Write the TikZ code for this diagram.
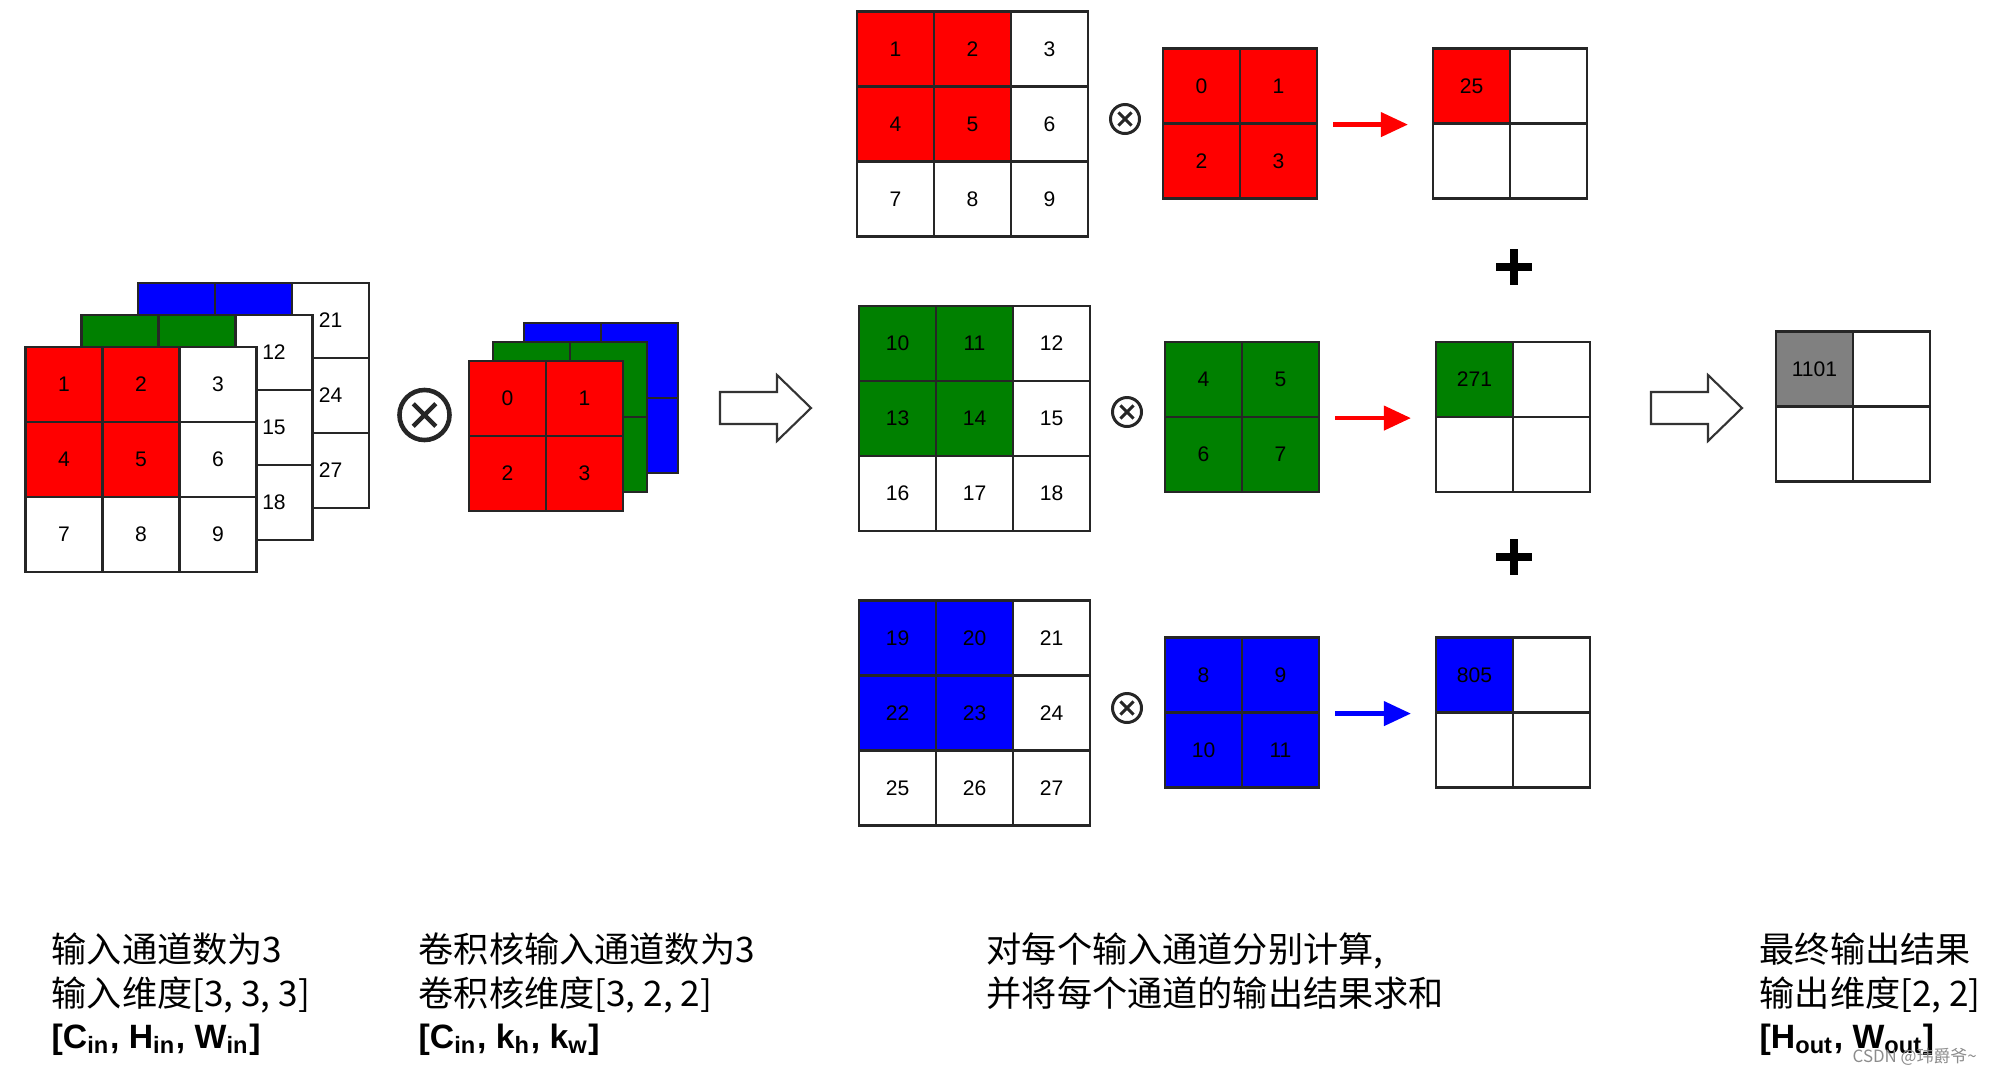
\documentclass[tikz,border=0pt]{standalone}
\usepackage{fontspec}
\setmainfont{Liberation Sans}
\newfontfamily\cjk{Noto Sans CJK SC}
\usepackage{xcolor}
\usetikzlibrary{arrows.meta,calc}
\definecolor{chred}{RGB}{255,0,0}
\definecolor{chgreen}{RGB}{0,128,0}
\definecolor{chblue}{RGB}{0,0,255}
\definecolor{sumgray}{RGB}{128,128,128}

\begin{document}
\begin{tikzpicture}[x=0.01cm,y=-0.01cm,
  cell/.style={draw=black!85,line width=0.6pt,minimum width=0.77cm,minimum height=0.75cm,inner sep=0pt,text=black,font=\fontsize{6}{7}\selectfont},
  otimes/.style={circle,draw=black!85,line width=#1,inner sep=0pt,path picture={\draw[black!85,line width=#1] ($(path picture bounding box.center)!0.45!(path picture bounding box.north east)$)--($(path picture bounding box.center)!0.45!(path picture bounding box.south west)$) ($(path picture bounding box.center)!0.45!(path picture bounding box.north west)$)--($(path picture bounding box.center)!0.45!(path picture bounding box.south east)$);}},
  flow/.style={line width=1.2pt,-{Triangle[length=0.27cm,width=0.24cm]},shorten <=0.15cm,shorten >=0.24cm},
  hollow/.style={draw=black!80,line width=0.6pt,fill=white,line join=miter},
  plus/.style={line width=2pt},
  caption/.style={anchor=base west,inner sep=0pt,font=\cjk\fontsize{10}{12}\selectfont},
  dims/.style={anchor=base west,inner sep=0pt,font=\bfseries\fontsize{9.6}{12}\selectfont}]
\useasboundingbox (0,0) rectangle (1999,1075);

% input, three channels
\foreach \r/\c/\v/\f in {0/0//chblue,0/1//chblue,0/2/21/white,1/0//white,1/1//white,1/2/24/white,2/0//white,2/1//white,2/2/27/white}
  \node[cell,fill=\f] (in3-\r-\c) at ({138+77*\c+38.5},{283+75*\r+37.5}) {\v};
\foreach \r/\c/\v/\f in {0/0//chgreen,0/1//chgreen,0/2/12/white,1/0//white,1/1//white,1/2/15/white,2/0//white,2/1//white,2/2/18/white}
  \node[cell,fill=\f] (in2-\r-\c) at ({81.5+77*\c+38.5},{315+75*\r+37.5}) {\v};
\foreach \r/\c/\v/\f in {0/0/1/chred,0/1/2/chred,0/2/3/white,1/0/4/chred,1/1/5/chred,1/2/6/white,2/0/7/white,2/1/8/white,2/2/9/white}
  \node[cell,fill=\f] (in1-\r-\c) at ({25.5+77*\c+38.5},{347+75*\r+37.5}) {\v};

\node[otimes=1.3pt,minimum size=0.5cm] (mul) at (424.5,415) {};

% kernel, three channels
\foreach \r/\c in {0/0,0/1,1/0,1/1}
  \node[cell,fill=chblue] (kb-\r-\c) at ({524+77*\c+38.5},{323+75*\r+37.5}) {};
\foreach \r/\c in {0/0,0/1,1/0,1/1}
  \node[cell,fill=chgreen] (kg-\r-\c) at ({493+77*\c+38.5},{342+75*\r+37.5}) {};
\foreach \r/\c/\v in {0/0/0,0/1/1,1/0/2,1/1/3}
  \node[cell,fill=chred] (kr-\r-\c) at ({469+77*\c+38.5},{361+75*\r+37.5}) {\v};

\draw[hollow] (720,392) -- (777,392) -- (777,375) -- (811,408) -- (777,441) -- (777,424) -- (720,424) -- cycle;

% per channel products
\foreach \r/\c/\v/\f in {0/0/1/chred,0/1/2/chred,0/2/3/white,1/0/4/chred,1/1/5/chred,1/2/6/white,2/0/7/white,2/1/8/white,2/2/9/white}
  \node[cell,fill=\f] (xr-\r-\c) at ({857+77*\c+38.5},{11.5+75*\r+37.5}) {\v};
\foreach \r/\c/\v/\f in {0/0/10/chgreen,0/1/11/chgreen,0/2/12/white,1/0/13/chgreen,1/1/14/chgreen,1/2/15/white,2/0/16/white,2/1/17/white,2/2/18/white}
  \node[cell,fill=\f] (xg-\r-\c) at ({859+77*\c+38.5},{306+75*\r+37.5}) {\v};
\foreach \r/\c/\v/\f in {0/0/19/chblue,0/1/20/chblue,0/2/21/white,1/0/22/chblue,1/1/23/chblue,1/2/24/white,2/0/25/white,2/1/26/white,2/2/27/white}
  \node[cell,fill=\f] (xb-\r-\c) at ({859+77*\c+38.5},{600.5+75*\r+37.5}) {\v};

\node[otimes=0.85pt,minimum size=0.29cm] (mr) at (1125,119) {};
\node[otimes=0.85pt,minimum size=0.29cm] (mg) at (1127,412) {};
\node[otimes=0.85pt,minimum size=0.29cm] (mb) at (1127,708) {};

\foreach \r/\c/\v in {0/0/0,0/1/1,1/0/2,1/1/3}
  \node[cell,fill=chred] (wr-\r-\c) at ({1163+77*\c+38.5},{48.5+75*\r+37.5}) {\v};
\foreach \r/\c/\v in {0/0/4,0/1/5,1/0/6,1/1/7}
  \node[cell,fill=chgreen] (wg-\r-\c) at ({1165+77*\c+38.5},{342+75*\r+37.5}) {\v};
\foreach \r/\c/\v in {0/0/8,0/1/9,1/0/10,1/1/11}
  \node[cell,fill=chblue] (wb-\r-\c) at ({1165+77*\c+38.5},{637.5+75*\r+37.5}) {\v};

\foreach \r/\c/\v/\f in {0/0/25/chred,0/1//white,1/0//white,1/1//white}
  \node[cell,fill=\f] (or-\r-\c) at ({1433+77*\c+38.5},{48.5+75*\r+37.5}) {\v};
\foreach \r/\c/\v/\f in {0/0/271/chgreen,0/1//white,1/0//white,1/1//white}
  \node[cell,fill=\f] (og-\r-\c) at ({1436+77*\c+38.5},{342+75*\r+37.5}) {\v};
\foreach \r/\c/\v/\f in {0/0/805/chblue,0/1//white,1/0//white,1/1//white}
  \node[cell,fill=\f] (ob-\r-\c) at ({1436+77*\c+38.5},{637.5+75*\r+37.5}) {\v};

\draw[flow,chred] (wr-0-1.south east) -- (or-0-0.south west);
\draw[flow,chred] (wg-0-1.south east) -- (og-0-0.south west);
\draw[flow,chblue] (wb-0-1.south east) -- (ob-0-0.south west);

\draw[plus] (1496,267) -- (1532,267) (1514,249) -- (1514,285);
\draw[plus] (1496,557) -- (1532,557) (1514,539) -- (1514,575);

% sum over channels
\draw[hollow] (1651,392) -- (1708,392) -- (1708,375) -- (1742,408) -- (1708,441) -- (1708,424) -- (1651,424) -- cycle;
\foreach \r/\c/\v/\f in {0/0/1101/sumgray,0/1//white,1/0//white,1/1//white}
  \node[cell,fill=\f] (res-\r-\c) at ({1776+77*\c+38.5},{331.5+75*\r+37.5}) {\v};

% captions
\node[caption] (t1a) at (51,962) {输入通道数为3};
\node[caption] (t1b) at (51,1006) {输入维度[3, 3, 3]};
\node[dims] (t1c) at (51,1048) {[C\textsubscript{in}, H\textsubscript{in}, W\textsubscript{in}]};
\node[caption] (t2a) at (418,962) {卷积核输入通道数为3};
\node[caption] (t2b) at (418,1006) {卷积核维度[3, 2, 2]};
\node[dims] (t2c) at (418,1048) {[C\textsubscript{in}, k\textsubscript{h}, k\textsubscript{w}]};
\node[caption] (t3a) at (986,962) {对每个输入通道分别计算,};
\node[caption] (t3b) at (986,1006) {并将每个通道的输出结果求和};
\node[caption] (t4a) at (1759,962) {最终输出结果};
\node[caption] (t4b) at (1759,1006) {输出维度[2, 2]};
\node[dims] (t4c) at (1759,1048) {[H\textsubscript{out}, W\textsubscript{out}]};
\node[anchor=base west,inner sep=0pt,text=black!45,font=\cjk\fontsize{4.8}{5}\selectfont] (mark) at (1852,1062) {CSDN @玮爵爷\textasciitilde};
\end{tikzpicture}
\end{document}
